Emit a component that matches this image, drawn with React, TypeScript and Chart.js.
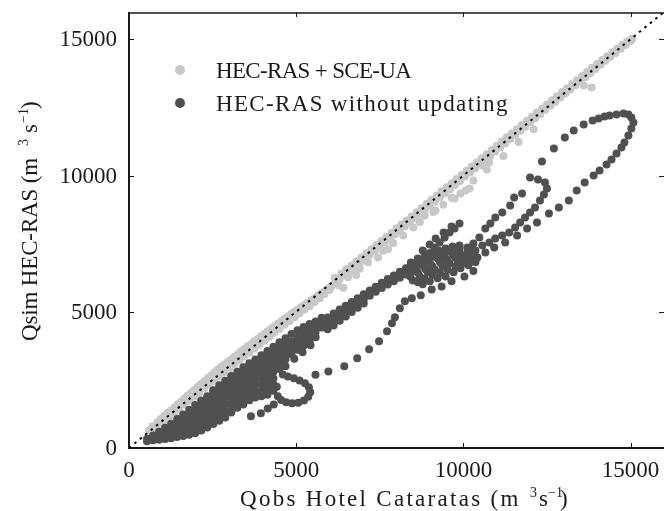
import { useEffect, useRef } from 'react';
import { Chart, registerables } from 'chart.js';

Chart.register(...registerables);

// ---------- axis / label data ----------
const xTicks = [0, 5000, 10000, 15000];
const yTicks = [0, 5000, 10000, 15000];
const axisMin = 0;
const axisMax = 16000;
const oneToOne = [0, 16000];
const seriesLabels = ['HEC-RAS + SCE-UA', 'HEC-RAS without updating'];
const xTitleMain = 'Qobs Hotel Cataratas (m';
const yTitleMain = 'Qsim HEC-RAS (m';

// ---------- HEC-RAS + SCE-UA (light) ----------
const lightLow: [number, number][] = [
  [600, 650], [700, 800], [750, 720], [850, 950], [900, 880], [950, 1060], [1050, 1010], [1050, 1180],
  [1150, 1290], [1200, 1150], [1250, 1380], [1350, 1300], [1350, 1480], [1450, 1600], [1500, 1430],
  [1550, 1700], [1650, 1600], [1650, 1810], [1750, 1920], [1800, 1730], [1850, 2020], [1950, 1880],
  [1950, 2130], [2050, 2240], [2100, 2030], [2150, 2350], [2250, 2170], [2250, 2450], [2350, 2560],
  [2400, 2330], [2450, 2660], [2550, 2470], [2550, 2770], [2650, 2870], [2700, 2620], [2750, 2970],
  [2850, 2770], [2850, 3060], [2950, 3160], [3000, 2920],
];
const lightMid: [number, number][] = [
  [3050, 3250], [3150, 3070], [3150, 3350], [3250, 3440], [3300, 3210], [3350, 3540], [3450, 3360],
  [3450, 3630], [3550, 3730], [3600, 3500], [3650, 3820], [3750, 3650], [3750, 3920], [3850, 4000],
  [3900, 3790], [3950, 4100], [4050, 3940], [4050, 4190], [4150, 4280], [4200, 4080], [4250, 4380],
  [4350, 4230], [4350, 4470], [4450, 4560], [4500, 4370], [4550, 4650], [4650, 4520], [4650, 4740],
  [4750, 4820], [4800, 4650], [4850, 4920], [4950, 4800], [4950, 5000], [5050, 5080], [5100, 4940],
  [5150, 5170], [5250, 5080], [5250, 5250], [5350, 5330], [5400, 5200], [5450, 5420], [5550, 5360],
  [5550, 5500], [5650, 5590], [5700, 5500], [5750, 5680], [5850, 5650], [5850, 5760], [5950, 5850],
  [6000, 5800], [6050, 5940],
];
const lightHigh: [number, number][] = [
  [6150, 6030], [6150, 6250], [6300, 6200], [6350, 6400], [6409, 5885], [6450, 6330], [6500, 6560],
  [6600, 6480], [6650, 6700], [6750, 6620], [6795, 6335], [6800, 6850], [6900, 6780], [6950, 7000],
  [7050, 6920], [7100, 7150], [7200, 7080], [7250, 7300], [7350, 7230], [7400, 7450], [7448, 6995],
  [7500, 7380], [7550, 7600], [7650, 7540], [7700, 7750], [7745, 7290], [7800, 7690], [7850, 7900],
  [7950, 7840], [8000, 8060], [8100, 7990], [8150, 8200], [8250, 8140], [8300, 8350], [8400, 8290],
  [8450, 8500], [8550, 8440], [8600, 8650], [8700, 8600], [8750, 8800], [8844, 8536], [8850, 8750],
  [8900, 8960], [9000, 8900], [9050, 9110], [9150, 9050], [9171, 8719], [9200, 9260], [9300, 9200],
  [9350, 9420], [9450, 9350], [9500, 9570], [9600, 9500], [9650, 9720], [9736, 9159], [9750, 9650],
  [9800, 9870], [9900, 9800], [9914, 9343], [9950, 10020], [10050, 9960], [10063, 9453], [10100, 10170],
  [10182, 9526], [10200, 10110], [10250, 10330], [10350, 10260], [10400, 10480], [10500, 10420],
  [10550, 10630], [10568, 10370], [10650, 10570], [10700, 10780], [10776, 10477], [10800, 10720],
  [10850, 10940], [10950, 10880], [11000, 11090], [11100, 11030], [11150, 11250], [11250, 11180],
  [11300, 11400], [11400, 11340], [11450, 11550], [11550, 11490], [11600, 11700], [11700, 11640],
  [11750, 11850], [11850, 11790], [11900, 12010], [12000, 11950], [12050, 12160], [12150, 12100],
  [12200, 12310], [12300, 12250], [12350, 12460], [12450, 12410], [12500, 12610], [12600, 12560],
  [12650, 12760], [12750, 12710], [12800, 12910], [12900, 12860], [12950, 13060], [13050, 13010],
  [13100, 13200], [13200, 13160], [13250, 13350], [13350, 13310], [13400, 13500], [13500, 13460],
  [13550, 13650], [13600, 13302], [13650, 13610], [13700, 13800], [13800, 13760], [13836, 13228],
  [13850, 13950], [13950, 13910], [14000, 14090], [14100, 14060], [14150, 14240], [14250, 14210],
  [14300, 14380], [14400, 14360], [14450, 14520], [14550, 14500], [14600, 14660], [14700, 14650],
  [14750, 14800], [14850, 14790], [14900, 14930], [15000, 14940], [15050, 15020],
];
const lightLowerEdge: [number, number][] = [
  [6250, 5980], [6550, 6270], [6900, 6580], [7150, 6820], [7600, 7240], [7900, 7520], [8200, 7800],
  [8500, 8090], [8700, 8290], [9100, 8660], [9400, 8930], [9650, 9180], [10300, 9820], [10700, 10220],
  [11200, 10720], [11650, 11230], [12100, 11700],
];

// ---------- HEC-RAS without updating (dark) ----------
const darkBlobColumns: [number, number[]][] = [
  [540, [340, 250]],
  [720, [460, 280]],
  [900, [600, 440, 300]],
  [1080, [740, 540, 330]],
  [1260, [890, 680, 480, 360]],
  [1440, [1060, 840, 620, 400]],
  [1620, [1230, 1000, 770, 540, 440]],
  [1800, [1400, 1170, 940, 710, 490]],
  [1980, [1580, 1340, 1100, 860, 620, 540]],
  [2160, [1740, 1500, 1260, 1020, 800, 640]],
  [2340, [1900, 1660, 1420, 1180, 950, 750]],
  [2520, [2120, 2060, 1820, 1580, 1340, 1110, 880]],
  [2700, [2300, 2220, 1980, 1730, 1490, 1240, 1000]],
  [2880, [2470, 2380, 2130, 1880, 1620, 1370, 1120]],
  [3060, [2640, 2530, 2290, 2040, 1800, 1550, 1300]],
  [3240, [2800, 2680, 2440, 2200, 1960, 1720, 1480]],
  [3420, [2960, 2820, 2580, 2340, 2090, 1850, 1600]],
  [3600, [3110, 2960, 2720, 2470, 2230, 1990, 1750]],
  [3780, [3250, 3080, 2840, 2590, 2340, 2100, 1850]],
  [3960, [3400, 3210, 2990, 2770, 2550, 2330, 2110, 1900]],
  [4140, [3560, 3350, 3120, 2890, 2650, 2420, 2190, 1950]],
  [4320, [3720, 3490, 3260, 3030, 2800, 2560, 2330, 2100]],
  [4500, [3880, 3630, 3390, 3150, 2900]],
  [4680, [4030, 3770, 3510, 3260, 3000]],
  [4860, [4180, 3910, 3670, 3440]],
  [5040, [4320, 4050, 3830, 3610]],
  [5220, [4440, 4190, 3970, 3750]],
  [5400, [4550, 4330, 4120, 3920]],
  [5580, [4640, 4480, 4260, 4060]],
];
const darkFishLoop: [number, number][] = [
  [3646, 1163], [3943, 1273], [4150, 1450], [4330, 1600], [4450, 1900], [4420, 2250], [4550, 1760],
  [4700, 1680], [4880, 1640], [5060, 1660], [5230, 1740], [5360, 1880], [5420, 2050], [5380, 2230],
  [5260, 2380], [5100, 2480], [4930, 2560], [4750, 2620], [4600, 2700],
];
const darkSparse: [number, number][] = [[4944, 3279], [5191, 3510], [5428, 3767]];
const darkLowerTail: [number, number][] = [
  [5577, 2692], [5963, 2803], [6439, 2997], [6825, 3290], [7181, 3620], [7478, 3913], [7716, 4280],
  [7864, 4574], [7953, 4794], [8101, 5124], [8250, 5381], [8458, 5491], [8725, 5601], [9052, 5821],
  [9349, 5931], [9646, 6115], [10032, 6298], [10300, 6500],
];
const darkBand: [number, number][] = [
  [5760, 4780], [5760, 4640], [5760, 4420], [5940, 4790], [5940, 4570], [5940, 4360], [6120, 4940],
  [6120, 4720], [6120, 4500], [6300, 5080], [6300, 4870], [6300, 4670], [6480, 5220], [6480, 5010],
  [6480, 4830], [6660, 5360], [6660, 5160], [6660, 4990], [6840, 5500], [6840, 5300], [6840, 5150],
  [7020, 5640], [7020, 5440], [7020, 5300], [7200, 5780], [7200, 5590], [7380, 5920], [7380, 5730],
  [7560, 6060], [7560, 5870], [7740, 6200], [7740, 6000], [7920, 6330], [7920, 6120], [8100, 6470],
  [8100, 6250], [8280, 6600], [8280, 6370], [8460, 6740], [8460, 6480],
];
const darkCluster: [number, number][] = [
  [8430, 6805], [8637, 6951], [8845, 7062], [9053, 7172], [9261, 7245], [9469, 7325], [9677, 7398],
  [9885, 7435], [10122, 7362], [8340, 6438], [8578, 6585], [8786, 6695], [8994, 6805], [9231, 6951],
  [9439, 7025], [9677, 7098], [9885, 7172], [10122, 7172], [10300, 7252], [8488, 6151], [8696, 6298],
  [8934, 6445], [9142, 6555], [9379, 6665], [9587, 6775], [9825, 6885], [10033, 6958], [10241, 7032],
  [8785, 6005], [8993, 6115], [9231, 6225], [9469, 6298], [9706, 6445], [9914, 6592], [10152, 6702],
  [10360, 6812],
  [8385, 6620], [8600, 6770], [8815, 6880], [9020, 6990], [9245, 7100], [9455, 7175], [9677, 7250],
  [9885, 7300], [8414, 6295], [8637, 6440], [8860, 6570], [9068, 6680], [9305, 6810], [9513, 6900],
  [9750, 6990], [9960, 7065], [10180, 7100], [8640, 6080], [8840, 6220], [9080, 6335], [9300, 6440],
  [9530, 6540], [9770, 6665], [9970, 6775], [10200, 6870],
];
const darkArm: [number, number][] = [
  [8934, 7142], [9142, 7362], [9290, 7545], [9439, 7728], [9587, 7912], [9736, 8059], [9885, 8242],
  [8785, 7252], [8993, 7472], [9171, 7692], [9409, 7912], [9647, 8132],
];
const darkInnerLoop: [number, number][] = [
  [11994, 9929], [12232, 9856], [12440, 9746], [12499, 9526], [12410, 9306], [12291, 9086],
  [12142, 8829], [11994, 8645], [11845, 8462], [11697, 8279], [11548, 8095], [11370, 7912],
  [11162, 7802], [10954, 7692], [10776, 7545], [10568, 7435], [10360, 7252], [11756, 9342],
  [11519, 9196], [11400, 8902], [11162, 8645], [10954, 8462], [10806, 8242], [10657, 8059],
  [10479, 7728], [10300, 7508],
];
const darkOuterLoop: [number, number][] = [
  [10420, 6995], [10657, 7178], [10924, 7362], [11251, 7545], [11608, 7802], [11905, 8059],
  [12202, 8279], [12558, 8609], [12856, 8829], [13153, 9086], [13390, 9452], [13628, 9746],
  [13895, 10003], [14074, 10186], [14282, 10406], [14430, 10590], [14579, 10810], [14727, 11030],
  [14816, 11213], [14935, 11470], [15024, 11727], [15084, 11947], [15024, 12130], [14935, 12240],
  [14787, 12277], [14579, 12240], [14371, 12203], [14222, 12167], [14044, 12093], [13866, 12020],
  [13598, 11873], [13301, 11653], [13034, 11397], [12707, 10993], [12350, 10516],
];

const LIGHT = '#c8c8c8';
const DARK = '#505050';
const INK = '#1a1a1a';
const SERIF = '"Liberation Serif", "DejaVu Serif", serif';

const toPts = (arr: [number, number][]) => arr.map(([x, y]) => ({ x, y }));

function spacedText(ctx: any, text: string, x: number, y: number, cell: number) {
  ctx.letterSpacing = '0px';
  const w = ctx.measureText(text).width;
  const ls = (cell * text.length - w) / text.length;
  ctx.letterSpacing = ls + 'px';
  ctx.fillText(text, x, y);
  ctx.letterSpacing = '0px';
}

const decorPlugin = {
  id: 'decor',
  afterDraw(chart: any) {
    const { ctx, chartArea: a, scales } = chart;
    const xs = scales.x;
    const ys = scales.y;
    ctx.save();
    // inward ticks on all four sides
    ctx.strokeStyle = INK;
    ctx.lineWidth = 1;
    ctx.beginPath();
    xTicks.forEach((v) => {
      const px = Math.round(xs.getPixelForValue(v)) + 0.5;
      ctx.moveTo(px, a.bottom);
      ctx.lineTo(px, a.bottom - 5);
      ctx.moveTo(px, a.top);
      ctx.lineTo(px, a.top + 5);
    });
    yTicks.forEach((v) => {
      const py = Math.round(ys.getPixelForValue(v)) + 0.5;
      ctx.moveTo(a.left, py);
      ctx.lineTo(a.left + 5, py);
      ctx.moveTo(a.right, py);
      ctx.lineTo(a.right - 5, py);
    });
    ctx.stroke();
    // frame
    ctx.lineWidth = 2;
    ctx.beginPath();
    ctx.moveTo(a.left, a.top);
    ctx.lineTo(a.left, a.bottom);
    ctx.lineTo(a.right, a.bottom);
    ctx.stroke();
    ctx.lineWidth = 1.6;
    ctx.beginPath();
    ctx.moveTo(a.left, a.top + 1);
    ctx.lineTo(a.right, a.top + 1);
    ctx.stroke();

    // tick labels, placed through the scales
    const mainFont = '23px ' + SERIF;
    const supFont = '14px ' + SERIF;
    ctx.fillStyle = INK;
    ctx.font = mainFont;
    ctx.textBaseline = 'middle';
    ctx.textAlign = 'right';
    yTicks.forEach((v) => {
      ctx.fillText(String(v), a.left - 12, ys.getPixelForValue(v) + 1);
    });
    ctx.textAlign = 'center';
    xTicks.forEach((v) => {
      ctx.fillText(String(v), xs.getPixelForValue(v), a.bottom + 23);
    });

    // legend
    const legendRows = [
      { color: LIGHT, label: seriesLabels[0], y: 70 },
      { color: DARK, label: seriesLabels[1], y: 103 },
    ];
    ctx.textBaseline = 'alphabetic';
    ctx.textAlign = 'left';
    legendRows.forEach((r) => {
      ctx.fillStyle = r.color;
      ctx.beginPath();
      ctx.arc(180, r.y, 5, 0, Math.PI * 2);
      ctx.fill();
      ctx.fillStyle = INK;
      ctx.font = mainFont;
      spacedText(ctx, r.label, 216, r.y + 7.5, 12.2);
    });

    // x-axis title
    ctx.fillStyle = INK;
    ctx.font = mainFont;
    const xb = 506;
    spacedText(ctx, xTitleMain, 240, xb, 12.2);
    ctx.font = supFont;
    ctx.fillText('3', 530, xb - 9);
    ctx.font = mainFont;
    ctx.fillText('s', 539, xb);
    ctx.font = supFont;
    ctx.fillText('\u22121', 548, xb - 9);
    ctx.font = mainFont;
    ctx.fillText(')', 560, xb);

    // y-axis title (rotated)
    ctx.save();
    ctx.translate(37, 341);
    ctx.rotate(-Math.PI / 2);
    ctx.font = mainFont;
    spacedText(ctx, yTitleMain, 0, 0, 12.2);
    ctx.font = supFont;
    ctx.fillText('3', 195, -9);
    ctx.font = mainFont;
    ctx.fillText('s', 208, 0);
    ctx.font = supFont;
    ctx.fillText('\u22121', 218, -9);
    ctx.font = mainFont;
    ctx.fillText(')', 232, 0);
    ctx.restore();

    ctx.restore();
  },
};

export default function App() {
  const canvasRef = useRef<HTMLCanvasElement | null>(null);

  useEffect(() => {
    const canvas = canvasRef.current;
    if (!canvas) return;
    const light = toPts([...lightLow, ...lightMid, ...lightHigh, ...lightLowerEdge]);
    const darkBlob = darkBlobColumns.flatMap(([x, ys]) => ys.map((y) => ({ x, y })));
    const dark = [
      ...darkBlob,
      ...toPts(darkFishLoop),
      ...toPts(darkSparse),
      ...toPts(darkLowerTail),
      ...toPts(darkBand),
      ...toPts(darkCluster),
      ...toPts(darkArm),
      ...toPts(darkInnerLoop),
      ...toPts(darkOuterLoop),
    ];
    const chart = new Chart(canvas, {
      type: 'scatter',
      data: {
        datasets: [
          {
            label: seriesLabels[0],
            data: light,
            backgroundColor: LIGHT,
            borderColor: LIGHT,
            pointRadius: 4,
            pointBorderWidth: 0,
            order: 3,
          },
          {
            label: seriesLabels[1],
            data: dark,
            backgroundColor: DARK,
            borderColor: DARK,
            pointRadius: 4,
            pointBorderWidth: 0,
            order: 2,
          },
          {
            type: 'line',
            label: '1:1',
            data: oneToOne.map((v) => ({ x: v, y: v })),
            borderColor: '#000',
            borderWidth: 2,
            borderDash: [2.5, 4.5],
            pointRadius: 0,
            showLine: true,
            fill: false,
            order: 1,
          } as any,
        ],
      },
      options: {
        responsive: false,
        animation: false,
        devicePixelRatio: 1,
        events: [],
        layout: { padding: { top: 12, right: 0, bottom: 0, left: 0 } },
        plugins: { legend: { display: false }, tooltip: { enabled: false } },
        scales: {
          x: {
            type: 'linear',
            min: axisMin,
            max: axisMax,
            afterBuildTicks: (s: any) => {
              s.ticks = xTicks.map((v) => ({ value: v }));
            },
            afterFit: (s: any) => {
              s.height = 63;
            },
            grid: { display: false, drawTicks: false },
            border: { display: false },
            ticks: { display: false },
          },
          y: {
            type: 'linear',
            min: axisMin,
            max: axisMax,
            afterBuildTicks: (s: any) => {
              s.ticks = yTicks.map((v) => ({ value: v }));
            },
            afterFit: (s: any) => {
              s.width = 129;
            },
            grid: { display: false, drawTicks: false },
            border: { display: false },
            ticks: { display: false },
          },
        },
      },
      plugins: [decorPlugin],
    });
    return () => chart.destroy();
  }, []);

  return (
    <div style={{ position: 'fixed', left: 0, top: 0, width: 668, height: 511, background: '#fff' }}>
      <canvas ref={canvasRef} width={668} height={511} style={{ display: 'block', width: 668, height: 511 }} />
    </div>
  );
}
